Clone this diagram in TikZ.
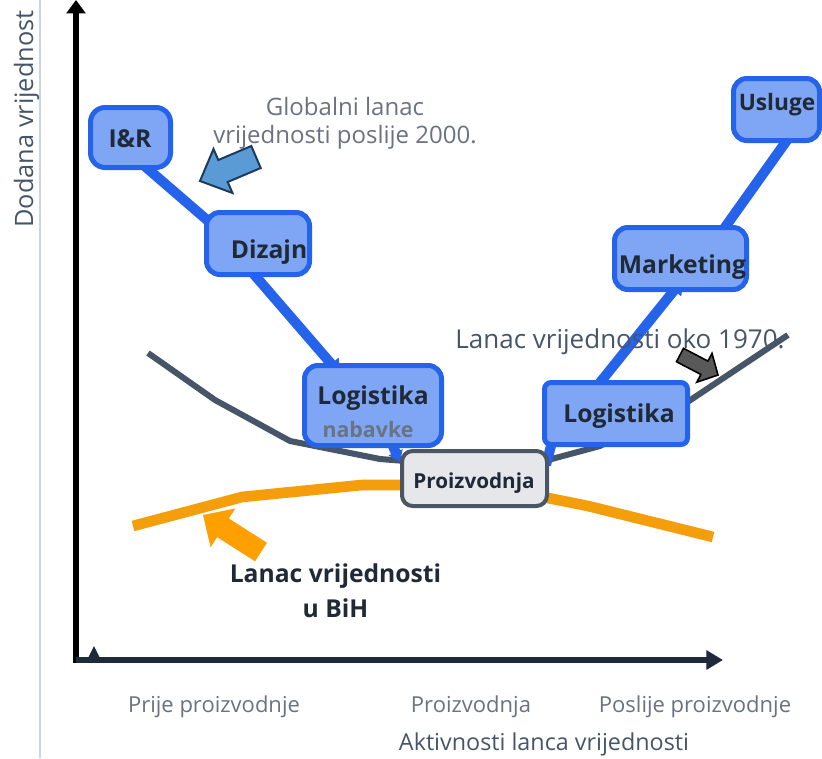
\documentclass[tikz,border=0pt]{standalone}
\usepackage{fontspec}
\setmainfont{Open Sans}
\usetikzlibrary{arrows.meta}
\pgfdeclarelayer{curves}
\pgfdeclarelayer{conns}
\pgfsetlayers{curves,conns,main}
\definecolor{boxfill}{HTML}{7FA6F5}
\definecolor{boxdraw}{HTML}{2563EB}
\definecolor{darktext}{HTML}{1F2937}
\definecolor{slate}{HTML}{475569}
\definecolor{graytext}{HTML}{6B7280}
\definecolor{orangeline}{HTML}{F59E0B}
\definecolor{orangearrow}{HTML}{FFA000}
\definecolor{bluearrow}{HTML}{5B9BD5}
\definecolor{bluearrowdraw}{HTML}{1E3A5F}
\definecolor{darkarrow}{HTML}{595959}
\definecolor{prodfill}{HTML}{E5E7EB}
\definecolor{prodline}{HTML}{4B5563}
\definecolor{axisnavy}{HTML}{1E293B}
\definecolor{sepline}{HTML}{CBD5E1}
\begin{document}
\begin{tikzpicture}[x=0.75pt,y=-0.75pt,
  box/.style={draw=boxdraw, fill=boxfill, line width=3.75pt, rounded corners=10pt, inner sep=0pt},
  prodbox/.style={draw=prodline, fill=prodfill, line width=3pt, rounded corners=8pt, inner sep=0pt},
  boxlabel/.style={text=darktext, font=\fontsize{18.5}{22}\selectfont\bfseries, inner sep=0pt, anchor=base},
  conn/.style={draw=boxdraw, line width=7.5pt},
  grayline/.style={draw=slate, line width=4.5pt},
  orangecurve/.style={draw=orangeline, line width=8pt},
  regtext/.style={inner sep=0pt, anchor=base, font=\fontsize{18}{22}\selectfont},
  axislabel/.style={inner sep=0pt, anchor=base, text=graytext, font=\fontsize{16.5}{20}\selectfont}
]
\useasboundingbox (0,0) rectangle (822,758);
\begin{pgfonlayer}{curves}
\fill[white] (0,0) rectangle (822,758);
\end{pgfonlayer}

% separator line
\coordinate (septop) at (40,0);
\coordinate (sepbot) at (40,758);
\begin{pgfonlayer}{curves}
\draw[sepline, line width=1.8pt] (septop) -- (sepbot);
\end{pgfonlayer}

% axes
\coordinate (yb) at (76,663);
\coordinate (yt) at (76,0);
\coordinate (xo) at (76,660);
\coordinate (xe) at (723,660);
\draw[black, line width=4.5pt, -{Triangle[width=14pt,length=10pt]}] (yb) -- (yt);
\draw[axisnavy, line width=4.5pt, -{Triangle[width=14pt,length=12.5pt]}] (xo) -- (xe);
\fill[axisnavy] (87,660) -- (94,646) -- (101,660) -- cycle;

% curves
\begin{pgfonlayer}{curves}
\draw[grayline] (148,353) -- (215,400) -- (290,441) -- (380,459) -- (405,461) -- (548,460) -- (600,446) -- (686,403) -- (788,335);
\draw[orangecurve] (133,526) -- (242,497) -- (362,485) -- (410,485) -- (548,498) -- (588,506) -- (713,537);
\end{pgfonlayer}

% boxes
\node[box, minimum width=60pt, minimum height=45pt, rounded corners=11pt] (ir) at (130.5,137.5) {};
\node[box, minimum width=77.25pt, minimum height=46.5pt] (diz) at (258,243.5) {};
\node[box, minimum width=102.75pt, minimum height=60pt] (lleft) at (373,405.5) {};
\node[prodbox, minimum width=108.75pt, minimum height=41.25pt] (prod) at (474.5,478.5) {};
\node[box, minimum width=107.25pt, minimum height=46.5pt, rounded corners=5pt] (lright) at (616,413.5) {};
\node[box, minimum width=99pt, minimum height=46.5pt] (mkt) at (680.5,258.5) {};
\node[box, minimum width=64.5pt, minimum height=46.5pt] (usl) at (776.5,109.5) {};

% box texts
\node[boxlabel] (tir) at (130,147) {I\&R};
\node[boxlabel] (tdiz) at (269,258) {Dizajn};
\node[boxlabel] (tll) at (373,404) {Logistika};
\node[boxlabel, text=graytext, font=\fontsize{16}{20}\selectfont\bfseries] (tnab) at (368,437) {nabavke};
\node[boxlabel, font=\fontsize{15.5}{18}\selectfont\bfseries] (tprod) at (474,488) {Proizvodnja};
\node[boxlabel] (tlr) at (619,422) {Logistika};
\node[boxlabel] (tmkt) at (682.5,273) {Marketing};
\node[boxlabel, font=\fontsize{17}{20}\selectfont\bfseries] (tusl) at (777,110) {Usluge};

% connectors (behind boxes)
\begin{pgfonlayer}{conns}
\draw[conn] ([shift={(6.5,22)}]ir.center) -- ([shift={(-36,-10.6)}]diz.center);
\draw[conn, -{Triangle[width=14pt,length=10pt]}] ([shift={(-13,20.5)}]diz.center) -- ([shift={(-33,-31.5)}]lleft.center);
\draw[conn, -{Triangle[width=11pt,length=8pt]}] ([shift={(15,29.5)}]lleft.center) -- ([shift={(-74.5,-16.5)}]prod.center);
\draw[conn] ([shift={(71.5,-13.5)}]prod.center) -- ([shift={(-63,24.5)}]lright.center);
\draw[conn, -{Triangle[width=13pt,length=12pt]}] ([shift={(-22,-23.5)}]lright.center) -- ([shift={(3.5,19.5)}]mkt.center);
\draw[conn] ([shift={(42.9,-29)}]mkt.center) -- ([shift={(14.3,25.4)}]usl.center);
\end{pgfonlayer}

% block arrows
\filldraw[fill=bluearrow, draw=bluearrowdraw, line width=1.5pt, line join=miter]
  (200,181) -- (232.5,193) -- (227.7,182) -- (260.7,168) -- (251.3,146) -- (218.3,160) -- (213.5,149) -- cycle;
\fill[orangearrow]
  (203,515) -- (235.4,508.4) -- (228.9,518.5) -- (266.9,542.7) -- (255.1,561.3) -- (217.1,537.1) -- (210.6,547.2) -- cycle;
\filldraw[fill=darkarrow, draw=black, line width=1.2pt, line join=miter]
  (718,375) -- (712,353.4) -- (707.9,361.1) -- (683.5,348.3) -- (676.5,361.7) -- (700.9,374.5) -- (696.8,382.2) -- cycle;

% free texts
\node[regtext, text=graytext] (glob1) at (345,115) {Globalni lanac};
\node[regtext, text=graytext] (glob2) at (345,143) {vrijednosti poslije 2000.};
\node[regtext, text=slate, font=\fontsize{19.5}{22}\selectfont] (l1970) at (620,348) {Lanac vrijednosti oko 1970.};
\node[regtext, text=darktext, font=\fontsize{18.5}{22}\selectfont\bfseries] (bih1) at (335.5,582) {Lanac vrijednosti};
\node[regtext, text=darktext, font=\fontsize{18.5}{22}\selectfont\bfseries] (bih2) at (335.5,617) {u BiH};
\node[regtext, text=slate, rotate=90, font=\fontsize{19}{22}\selectfont] (ylab) at (33,119) {Dodana vrijednost};
\node[axislabel] (xl1) at (214,712) {Prije proizvodnje};
\node[axislabel] (xl2) at (471,712) {Proizvodnja};
\node[axislabel] (xl3) at (695,712) {Poslije proizvodnje};
\node[regtext, text=slate, font=\fontsize{17.5}{22}\selectfont] (xlab) at (544,750) {Aktivnosti lanca vrijednosti};
\end{tikzpicture}
\end{document}
